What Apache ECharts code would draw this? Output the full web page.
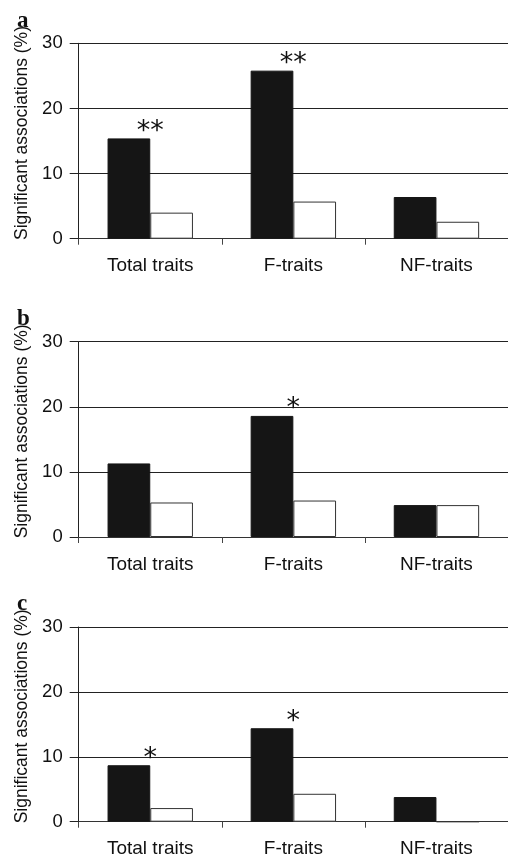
<!DOCTYPE html>
<html>
<head>
<meta charset="utf-8">
<script src="https://cdn.jsdelivr.net/npm/echarts@6/dist/echarts.min.js"></script>
<style>html,body{margin:0;padding:0;background:#fff;}#chart{width:508px;height:862px;}</style>
</head>
<body>
<div id="chart"></div>
<script>
var categories = ['Total traits', 'F-traits', 'NF-traits'];
var yTicks = [0, 10, 20, 30];
var panelLabels = ['a', 'b', 'c'];
// black (filled) and white (open) bars per panel
var aBlack = [15.4, 25.8, 6.4];
var aWhite = [4.0, 5.7, 2.6];
var bBlack = [11.3, 18.6, 4.9];
var bWhite = [5.3, 5.6, 4.9];
var cBlack = [8.7, 14.4, 3.8];
var cWhite = [2.1, 4.3, 0];
// significance marks
var aSig = ['**', '**', ''];
var bSig = ['', '*', ''];
var cSig = ['*', '*', ''];
var yName = 'Significant associations (%)';

var panels = [
  {black: aBlack, white: aWhite, sig: aSig, top: 43.3, height: 195.4},
  {black: bBlack, white: bWhite, sig: bSig, top: 341.7, height: 195.3},
  {black: cBlack, white: cWhite, sig: cSig, top: 627, height: 194.7}
];
var FONT = '"Liberation Sans", Arial, sans-serif';
var grids = [], xAxes = [], yAxes = [], series = [], graphics = [];
panels.forEach(function (p, i) {
  grids.push({left: 78.7, top: p.top, width: 434, height: p.height, containLabel: false});
  xAxes.push({
    type: 'category', gridIndex: i, data: categories,
    axisLine: {lineStyle: {color: '#333', width: 1}},
    axisTick: {show: true, length: 6, lineStyle: {color: '#444'}},
    axisLabel: {color: '#111', fontFamily: FONT, fontSize: 19, margin: 18}
  });
  yAxes.push({
    type: 'value', gridIndex: i, min: yTicks[0], max: yTicks[yTicks.length - 1], interval: 10,
    name: yName, nameLocation: 'middle', nameGap: 48,
    nameTextStyle: {color: '#111', fontFamily: FONT, fontSize: 17.5, padding: [0, 0, 0, 16]},
    axisLine: {show: true, lineStyle: {color: '#222', width: 1}},
    axisTick: {show: true, length: 9, lineStyle: {color: '#222'}},
    axisLabel: {color: '#111', fontFamily: FONT, fontSize: 18.5, margin: 16},
    splitLine: {show: true, lineStyle: {color: '#222', width: 1}}
  });
  series.push({
    type: 'bar', xAxisIndex: i, yAxisIndex: i, data: p.black,
    barWidth: 42.7, barGap: '0%',
    itemStyle: {color: '#151515', borderColor: '#151515', borderWidth: 1},
    label: {
      show: true, position: 'top', distance: -7, offset: [21.3, 0],
      fontFamily: '"DejaVu Sans", sans-serif', fontSize: 27, color: '#111',
      formatter: (function (sig) { return function (prm) { return sig[prm.dataIndex]; }; })(p.sig)
    },
    silent: true, animation: false
  });
  series.push({
    type: 'bar', xAxisIndex: i, yAxisIndex: i, data: p.white,
    barWidth: 42.7, barGap: '0%',
    itemStyle: {color: '#ffffff', borderColor: '#333', borderWidth: 1},
    silent: true, animation: false
  });
  graphics.push({
    type: 'text', left: 17, top: p.top - 34,
    style: {text: panelLabels[i], font: 'bold 23px "Liberation Serif", "Times New Roman", serif', fill: '#111'}
  });
});

var chart = echarts.init(document.getElementById('chart'), null, {renderer: 'canvas'});
chart.setOption({
  animation: false,
  backgroundColor: '#fff',
  grid: grids, xAxis: xAxes, yAxis: yAxes, series: series, graphic: graphics
});
</script>
</body>
</html>
